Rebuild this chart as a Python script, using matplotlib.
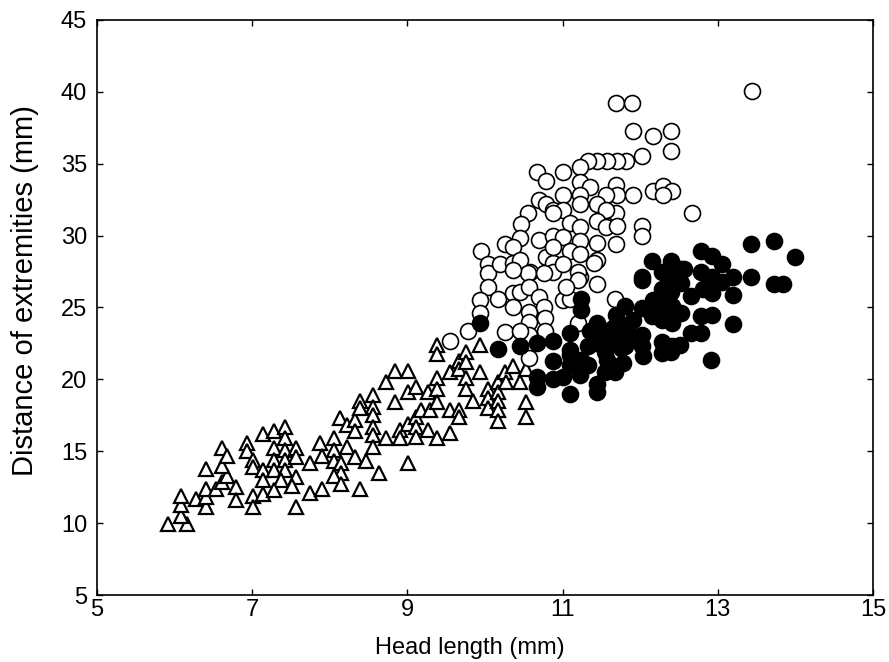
import matplotlib
matplotlib.use('Agg')
import matplotlib.pyplot as plt

plt.rcParams['font.family'] = ['Liberation Sans', 'DejaVu Sans']

# group 1: open triangles
tri_x = [5.91, 6.16, 6.08, 6.08, 6.08, 6.28, 6.40, 6.40, 6.40, 6.53, 6.61, 6.67, 6.61, 6.40,
         6.61, 6.67, 6.79, 6.79, 6.94, 6.94, 7.01, 7.01, 7.14, 7.14, 7.01, 7.01, 7.14, 7.14,
         7.28, 7.43, 7.43, 7.28, 7.43, 7.57, 7.28, 7.43, 7.57, 7.28, 7.43, 7.37, 7.57, 7.28,
         7.51, 7.57, 7.75, 7.75, 7.88, 8.05, 8.05, 7.90, 8.05, 8.15, 8.22, 8.32, 8.15, 8.05,
         8.15, 7.90, 8.39, 8.47, 8.63, 8.13, 8.22, 8.32, 8.32, 8.39, 8.39, 8.56, 8.56, 8.56,
         8.56, 8.56, 8.56, 8.73, 8.84, 9.01, 8.84, 8.73, 8.90, 8.90, 9.01, 9.01, 9.11, 9.11,
         9.11, 9.11, 9.01, 9.18, 9.27, 9.29, 9.27, 9.38, 9.38, 9.38, 9.38, 9.38, 9.38, 9.55,
         9.55, 9.55, 9.66, 9.66, 9.66, 9.66, 9.76, 9.76, 9.76, 9.76, 9.84, 9.94, 9.94, 10.04,
         10.04, 10.04, 10.17, 10.17, 10.17, 10.17, 10.17, 10.26, 10.27, 10.36, 10.45, 10.53,
         10.53, 10.53]
tri_y = [9.94, 9.94, 10.5, 11.3, 11.9, 11.7, 11.1, 11.8, 12.4, 12.4, 12.9, 13.3, 14.0, 13.8,
         15.2, 14.7, 12.5, 11.6, 15.6, 15.0, 14.4, 13.9, 13.7, 13.0, 11.9, 11.1, 12.0, 16.2,
         16.4, 16.7, 15.9, 15.2, 15.1, 15.2, 14.4, 14.4, 14.6, 13.7, 13.7, 13.0, 13.2, 12.3,
         12.6, 11.1, 14.2, 12.1, 15.6, 15.9, 15.1, 14.7, 14.3, 14.2, 15.3, 14.6, 13.5, 13.3,
         12.7, 12.4, 12.4, 14.3, 13.5, 17.3, 16.8, 17.2, 16.4, 18.5, 18.0, 18.9, 18.1, 17.5,
         16.7, 16.1, 15.3, 19.8, 20.6, 20.6, 18.4, 15.9, 16.5, 15.9, 16.9, 19.1, 19.5, 17.4,
         16.7, 16.0, 14.2, 17.9, 19.1, 17.9, 16.5, 20.1, 19.3, 18.4, 15.9, 22.4, 21.8, 17.9,
         16.3, 20.5, 21.3, 20.7, 17.9, 17.4, 21.9, 21.2, 20.1, 19.3, 18.5, 22.4, 20.5, 19.3,
         18.7, 18.0, 19.8, 19.1, 18.5, 17.9, 17.1, 20.5, 19.8, 20.9, 19.8, 20.7,
         18.4, 17.4]

# group 2: open circles
oc_x = [11.69, 11.90, 11.91, 12.16, 12.40, 12.40, 12.03, 11.82, 11.70, 11.57, 11.44, 11.33,
        11.22, 10.67, 11.00, 10.79, 11.22, 11.35, 11.69, 11.70, 11.91, 12.16, 12.29, 12.41,
        12.29, 11.00, 11.22, 11.56, 10.69, 10.79, 10.56, 10.88, 11.00, 11.22, 11.44, 11.69,
        11.56, 12.67, 11.09, 11.22, 11.44, 11.56, 11.70, 12.03, 12.03, 10.46, 10.45, 10.69,
        10.88, 11.00, 11.22, 11.44, 11.69, 10.79, 10.88, 11.10, 11.22, 11.44, 10.58, 10.88,
        11.00, 11.22, 10.88, 10.26, 10.36, 10.88, 9.95, 10.04, 10.04, 10.19, 10.36, 10.45,
        10.55, 10.36, 10.76, 11.20, 11.20, 11.40, 10.04, 10.17, 9.94, 9.94, 9.78, 10.36,
        10.45, 10.57, 10.69, 10.36, 10.57, 10.76, 10.57, 10.77, 11.00, 11.10, 11.05, 10.26,
        10.57, 10.77, 11.20, 10.57, 11.44, 11.68, 9.55, 10.45, 13.44]
oc_y = [39.25, 39.25, 37.3, 36.9, 37.3, 35.9, 35.5, 35.2, 35.2, 35.2, 35.2, 35.2,
        34.8, 34.4, 34.4, 33.8, 33.75, 33.4, 33.5, 32.8, 32.8, 33.1, 33.45, 33.1,
        32.8, 32.8, 32.8, 32.8, 32.5, 32.2, 31.55, 31.8, 31.8, 32.2, 32.2, 31.55,
        31.8, 31.55, 30.9, 30.6, 31.0, 30.6, 30.7, 30.7, 30.0, 30.8, 29.8, 29.7,
        30.0, 29.9, 29.6, 29.5, 29.4, 28.5, 28.1, 28.9, 28.7, 28.3, 27.5, 27.5,
        28.0, 27.1, 31.55, 29.4, 29.2, 29.2, 28.9, 28.0, 27.4, 28.0, 28.1, 28.3,
        27.4, 27.6, 27.4, 27.5, 26.9, 28.1, 26.4, 25.6, 25.5, 24.6, 23.4, 26.0,
        26.1, 26.4, 25.75, 25.05, 24.7, 25.05, 24.0, 24.25, 25.5, 25.6, 26.4, 23.3,
        23.1, 23.4, 23.9, 21.5, 26.6, 25.6, 22.7, 23.4, 40.06]

# group 3: filled circles
fc_x = [9.94, 10.17, 10.45, 10.67, 10.88, 10.88, 10.67, 10.67, 10.88, 11.00, 11.10, 11.10,
        11.22, 11.44, 11.24, 11.24, 11.10, 11.10, 11.35, 11.33, 11.10, 11.33, 11.24, 11.44,
        11.80, 11.69, 11.91, 11.45, 11.65, 11.55, 11.42, 11.57, 11.81, 12.02, 11.75, 12.04,
        11.57, 11.78, 12.28, 12.40, 12.16, 12.39, 12.37, 13.43, 13.73, 14.00, 13.43, 13.72,
        13.84, 13.19, 13.19, 13.19, 12.91, 12.79, 12.92, 13.05, 12.79, 12.92, 13.05, 12.81,
        12.66, 12.92, 12.79, 12.92, 12.79, 12.66, 12.15, 12.40, 12.52, 12.28, 12.03, 12.40,
        12.52, 12.28, 12.40, 12.02, 12.28, 12.41, 12.52, 12.15, 12.28, 12.41, 11.80, 11.68,
        11.91, 12.41, 12.51, 12.28, 12.02, 11.80, 11.44, 11.55, 11.55, 11.68, 12.56, 12.02]
fc_y = [23.9, 22.1, 22.3, 22.5, 22.7, 21.3, 20.2, 19.5, 20.0, 20.2, 19.0, 21.7,
        20.3, 19.1, 25.6, 24.8, 23.2, 22.05, 23.4, 22.3, 21.0, 21.0, 21.35, 19.7,
        25.1, 24.5, 24.1, 23.9, 23.55, 23.4, 22.9, 22.6, 23.0, 23.1, 22.2, 21.65,
        21.35, 21.15, 22.6, 21.9, 25.5, 24.8, 27.6, 29.4, 29.65, 28.5, 27.1, 26.6,
        26.6, 27.1, 25.9, 23.85, 21.35, 28.9, 28.6, 28.0, 27.5, 27.1, 26.8, 26.3,
        25.8, 26.0, 24.4, 24.5, 23.2, 23.2, 28.25, 28.25, 27.65, 27.5, 26.9, 27.0,
        26.7, 26.3, 26.1, 24.95, 25.3, 25.1, 24.6, 24.4, 24.1, 23.9, 23.7, 23.0,
        23.0, 22.3, 22.4, 21.85, 22.3, 22.3, 22.5, 21.9, 20.5, 20.5, 27.7, 27.1]

fig = plt.figure(figsize=(8.89, 6.62), dpi=100)
ax = fig.add_axes([0.109, 0.101, 0.873, 0.869])

ax.plot(tri_x, tri_y, linestyle='none', marker='^', markersize=9.5,
        markerfacecolor='white', markeredgecolor='black', markeredgewidth=1.6)
ax.plot(oc_x, oc_y, linestyle='none', marker='o', markersize=11.5,
        markerfacecolor='white', markeredgecolor='black', markeredgewidth=1.2)
ax.plot(fc_x, fc_y, linestyle='none', marker='o', markersize=11.5,
        markerfacecolor='black', markeredgecolor='black', markeredgewidth=1.2)

ax.set_xlim(5, 15)
ax.set_ylim(5, 45)
ax.set_xticks([5, 7, 9, 11, 13, 15])
ax.set_yticks([5, 10, 15, 20, 25, 30, 35, 40, 45])
ax.tick_params(direction='in', length=4, width=1, labelsize=17, top=True, right=True)
ax.tick_params(axis='y', pad=7)
ax.tick_params(axis='x', pad=3)
for s in ax.spines.values():
    s.set_linewidth(1.2)

ax.set_xlabel('Head length (mm)', fontsize=17)
ax.set_ylabel('Distance of extremities (mm)', fontsize=21)
ax.xaxis.set_label_coords(0.481, -0.073)
ax.yaxis.set_label_coords(-0.074, 0.53)

fig.savefig('out.png', dpi=100)
